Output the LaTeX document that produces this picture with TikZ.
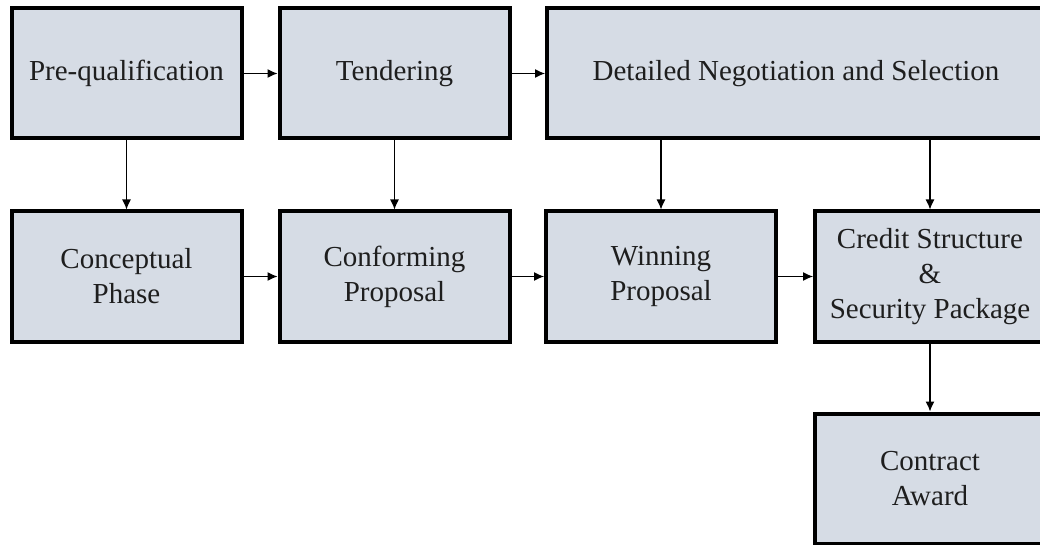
\documentclass[tikz,border=0pt]{standalone}
\usepackage{fontspec}
\setmainfont{Liberation Serif}
\usetikzlibrary{arrows.meta}
\definecolor{boxfill}{HTML}{D6DCE5}
\definecolor{inkcol}{HTML}{1E1E1E}
\begin{document}
\begin{tikzpicture}[x=1pt,y=-1pt,
  stagebox/.style={draw=black, fill=boxfill, line width=4pt, rectangle,
    minimum width=230pt, minimum height=130pt, inner sep=0pt, align=center,
    text=inkcol, font=\fontsize{29}{35}\selectfont},
  flow/.style={draw=black, line width=1.2pt, -{Latex[length=10pt,width=9pt]}}]
\useasboundingbox (0,0) rectangle (1040,545);
\clip (0,0) rectangle (1040,545);
% first row
\node[stagebox] (pre) at (126.5,73.5) {Pre-qualification};
\node[stagebox] (ten) at (394.5,73.5) {Tendering};
\node[stagebox, minimum width=498pt] (det) at (796,73.5) {Detailed Negotiation and Selection};
% second row
\node[stagebox] (con) at (126.5,276.5) {Conceptual\\Phase};
\node[stagebox] (conf) at (394.5,276.5) {Conforming\\Proposal};
\node[stagebox] (win) at (661,276.5) {Winning\\Proposal};
\node[stagebox] (cred) at (930,276.5) {Credit Structure\\\&\\Security Package};
% third row
\node[stagebox] (award) at (930,478.5) {Contract\\Award};
% connectors
\draw[flow] (pre.east) -- (ten.west);
\draw[flow] (ten.east) -- (det.west);
\draw[flow] (con.east) -- (conf.west);
\draw[flow] (conf.east) -- (win.west);
\draw[flow] (win.east) -- (cred.west);
\draw[flow] (pre.south) -- (con.north);
\draw[flow] (ten.south) -- (conf.north);
\draw[flow] (win.north |- det.south) -- (win.north);
\draw[flow] (cred.north |- det.south) -- (cred.north);
\draw[flow] (cred.south) -- (award.north);
\end{tikzpicture}
\end{document}
